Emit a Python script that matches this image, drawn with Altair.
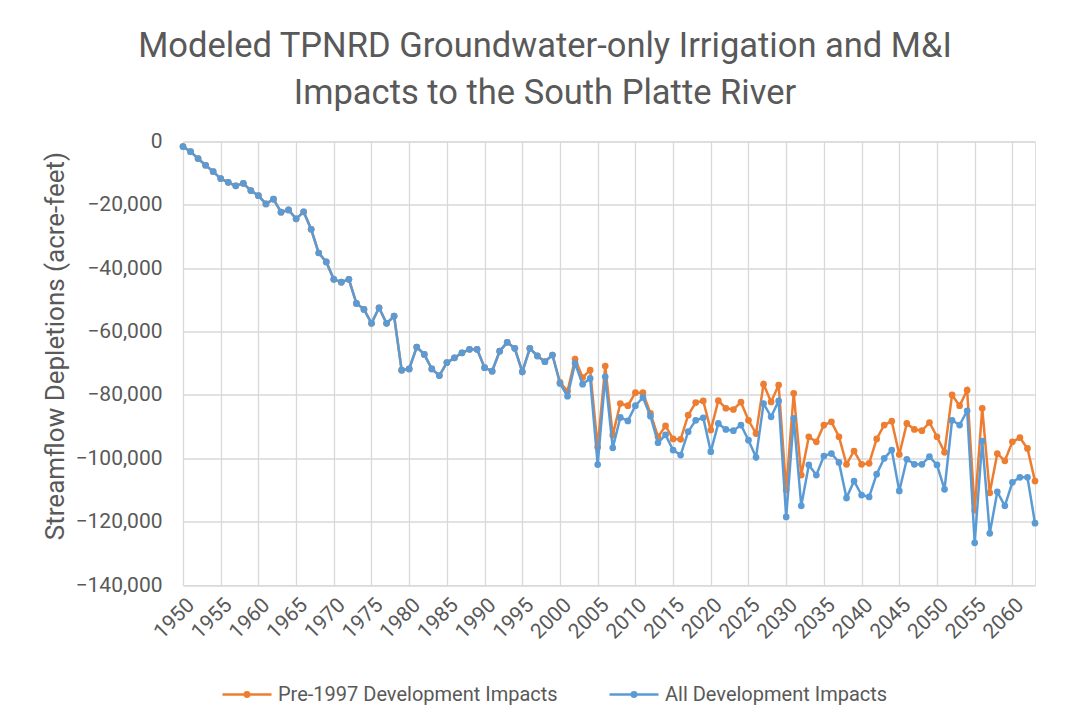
import altair as alt
import pandas as pd

years = list(range(1950, 2064))

# values shared by both series (1950-1999)
shared_early = [
    -1600, -3200, -5400, -7500, -9500, -11700, -12900, -14000, -13200, -15500,
    -17100, -19700, -18200, -22300, -21600, -24400, -22200, -27700, -35200, -38000,
    -43500, -44400, -43500, -51100, -53000, -57400, -52500, -57400, -55100, -72200,
    -71800, -64900, -67200, -71800, -73900, -69800, -68300, -66700, -65600, -65600,
    -71400, -72500, -66200, -63400, -65300, -72700, -65300, -67700, -69500, -67400,
]

# 2000-2063
pre1997_late = [
    -76000, -78800, -68700, -74500, -72200, -96500, -70900, -92700, -82700, -83400,
    -79300, -79300, -85800, -93200, -89800, -93900, -94000, -86400, -82400, -81900,
    -91100, -81800, -84200, -84600, -82300, -88000, -92200, -76600, -82200, -76900,
    -110000, -79500, -105300, -93200, -94800, -89500, -88500, -93200, -101900, -97700,
    -101900, -101600, -93900, -89500, -88300, -98800, -89000, -90900, -91300, -88700,
    -93200, -98100, -80000, -83400, -78500, -116400, -84200, -110900, -98500, -100800,
    -94800, -93500, -96900, -107200,
]

all_late = [
    -76400, -80400, -70000, -76600, -74800, -102000, -74300, -96700, -87100, -88200,
    -83400, -80800, -86700, -95100, -92600, -97400, -99000, -91600, -88000, -87200,
    -97900, -89000, -90900, -91300, -89500, -94300, -99700, -82700, -86900, -81900,
    -118500, -87400, -115000, -102100, -105300, -99300, -98500, -101300, -112500, -107200,
    -111600, -112200, -105000, -100000, -97400, -110300, -100300, -101900, -101900, -99500,
    -102100, -109800, -88000, -89500, -85000, -126700, -94600, -123700, -110600, -115000,
    -107600, -106000, -106000, -120500,
]

series_names = ["Pre-1997 Development Impacts", "All Development Impacts"]
series_colors = ["#ED7D31", "#5B9BD5"]
x_ticks = list(range(1950, 2061, 5))
y_ticks = [0, -20000, -40000, -60000, -80000, -100000, -120000, -140000]

pre_vals = shared_early + pre1997_late
all_vals = shared_early + all_late

df = pd.concat([
    pd.DataFrame({"year": years, "value": pre_vals, "series": series_names[0]}),
    pd.DataFrame({"year": years, "value": all_vals, "series": series_names[1]}),
])

GRID = "#D9D9D9"
TXT = "#595959"

x_enc = alt.X(
    "year:Q",
    scale=alt.Scale(domain=[1950, 2063], nice=False, zero=False),
    axis=alt.Axis(
        values=x_ticks, format="d", labelAngle=-45, labelFontSize=21,
        labelColor=TXT, labelFont="Roboto", title=None, grid=True,
        labelOverlap=False, labelBound=False, labelFlush=False,
        gridColor=GRID, gridWidth=1.3, domain=False, ticks=False, labelPadding=9,
    ),
)
y_enc = alt.Y(
    "value:Q",
    scale=alt.Scale(domain=[-140000, 0], nice=False),
    axis=alt.Axis(
        values=y_ticks, format=",.0f", labelFontSize=21, labelColor=TXT,
        labelFont="Roboto", grid=True, gridColor=GRID, gridWidth=1.3,
        domain=False, ticks=False, labelPadding=21,
        title="Streamflow Depletions (acre-feet)", titleFontSize=26,
        titleFont="Roboto", titleColor=TXT, titleFontWeight="normal",
        titleX=-128, titleY=204, titleAngle=-90, titleAlign="center",
        titleBaseline="middle",
    ),
)
color_enc = alt.Color(
    "series:N",
    scale=alt.Scale(domain=series_names, range=series_colors),
    legend=alt.Legend(
        title=None, orient="none", direction="horizontal",
        legendX=38, legendY=527, labelLimit=0,
        labelFontSize=20, labelColor=TXT, labelFont="Roboto",
        symbolType="M-1,0L1,0M0.09,0A0.09,0.09,0,1,1,-0.09,0A0.09,0.09,0,1,1,0.09,0",
        symbolSize=2400, symbolStrokeWidth=2.5, columnPadding=46, labelOffset=5,
    ),
)

base = alt.Chart(df).mark_line(
    strokeWidth=2.5,
    point=alt.OverlayMarkDef(filled=True, size=45),
).encode(x=x_enc, y=y_enc, color=color_enc)

orange = base.transform_filter(alt.datum.series == series_names[0])
blue = base.transform_filter(alt.datum.series == series_names[1])

chart = alt.layer(orange, blue).properties(
    width=852,
    height=443.5,
    padding={"left": 175, "top": 133.5, "right": 30, "bottom": 128},
    autosize=alt.AutoSizeParams(type="none"),
    title=alt.TitleParams(
        text=["Modeled TPNRD Groundwater-only Irrigation and M&I",
              "Impacts to the South Platte River"],
        anchor="middle", dx=-64, fontSize=34.5, font="Roboto",
        fontWeight="normal", color=TXT, lineHeight=47, offset=19,
    ),
).configure_view(stroke=None).configure(background="white")

chart.save("out.html", embed_options={"renderer": "svg", "actions": False})
